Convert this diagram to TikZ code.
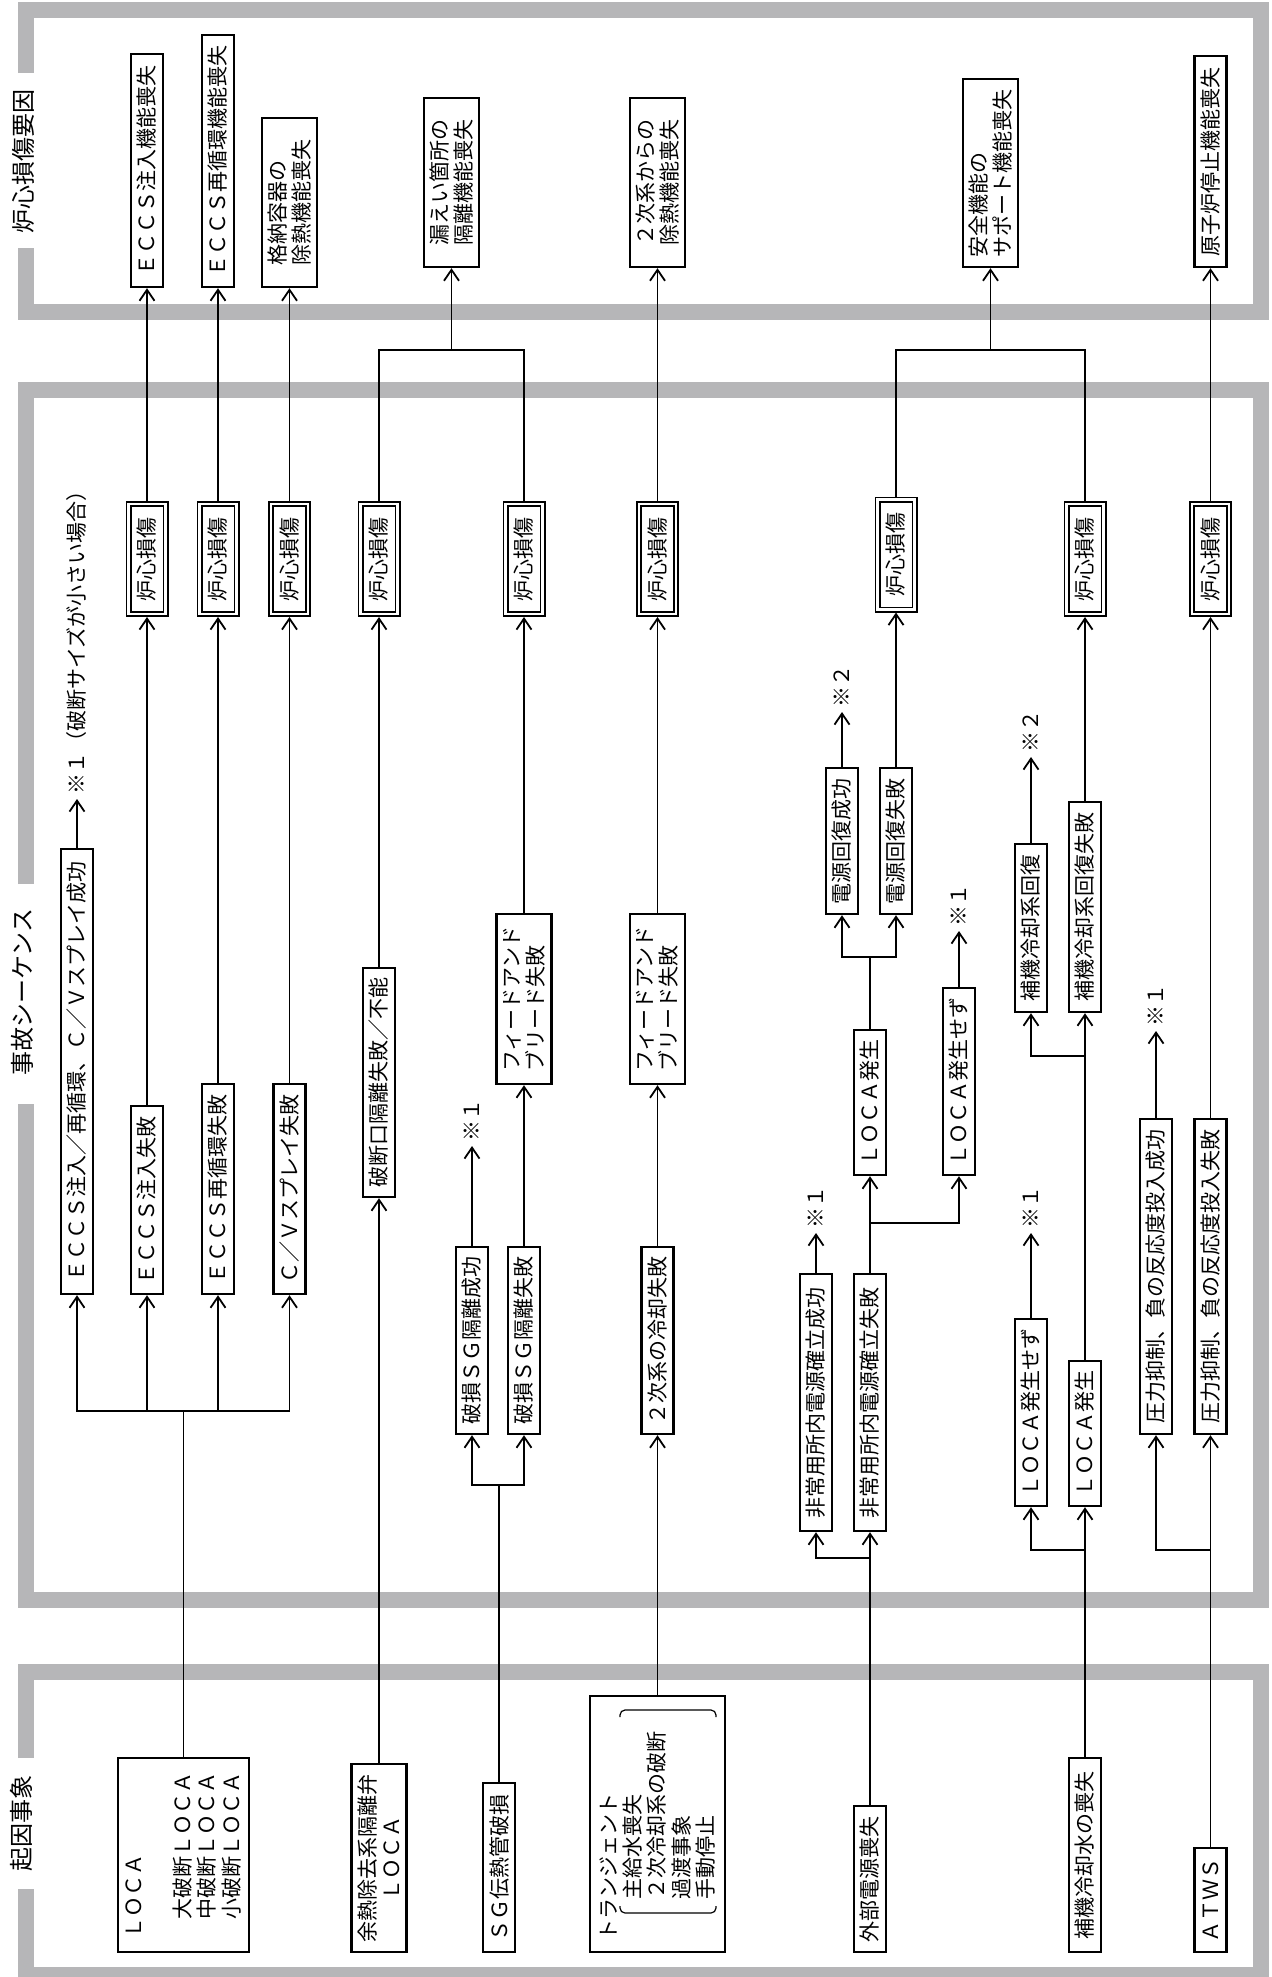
\documentclass[tikz,border=0pt]{standalone}
\usepackage{fontspec}
\setmainfont{Noto Sans CJK JP}
\usetikzlibrary{arrows.meta}

\definecolor{framegray}{RGB}{182,182,184}

\tikzset{
  frame/.style={draw=framegray, line width=8pt},
  box/.style={draw, line width=1.2pt, rotate=90, inner sep=0pt, minimum height=16pt,
    font=\fontsize{10.5pt}{12.2pt}\selectfont, align=center},
  wide/.style={minimum height=27.5pt, align=left},
  len/.style={minimum width=#1*0.5pt},
  cdbox/.style={draw, line width=0.9pt, double, double distance=1.2pt, rotate=90,
    inner sep=0pt, outer sep=1.5pt, minimum width=55pt, minimum height=18.5pt,
    font=\fontsize{10.5pt}{12.2pt}\selectfont},
  note/.style={rotate=90, anchor=west, inner xsep=2pt, inner ysep=0pt,
    font=\fontsize{10.5pt}{12.2pt}\selectfont},
  title/.style={rotate=90, inner sep=0pt, font=\fontsize{12pt}{14pt}\selectfont},
  line/.style={line width=0.9pt},
  arr/.style={line width=0.9pt, -{Straight Barb[length=5.5pt,width=7.5pt]}},
}

\begin{document}
\begin{tikzpicture}[x=0.5pt,y=-0.5pt]
\useasboundingbox (0,0) rectangle (1271,1977);

\draw[frame] (26,73) -- (26,10) -- (1261,10) -- (1261,312) -- (26,312) -- (26,248);
\draw[frame] (26,884) -- (26,390) -- (1261,390) -- (1261,1599.5) -- (26,1599.5) -- (26,1104);
\draw[frame] (26,1758) -- (26,1672) -- (1261,1672) -- (1261,1975) -- (26,1975) -- (26,1889);

\node[title] (tR) at (23,161) {炉心損傷要因};
\node[title] (tS) at (22,992) {事故シーケンス};
\node[title] (tI) at (21,1823) {起因事象};

\node[box, len=194, minimum height=65.5pt, align=left] (iA) at (183.5,1855)
  {ＬＯＣＡ\\[12.2pt]\hspace*{9.5pt}大破断ＬＯＣＡ\\\hspace*{9.5pt}中破断ＬＯＣＡ\\\hspace*{9.5pt}小破断ＬＯＣＡ};
\node[box, len=188, wide, align=center] (iB) at (379,1858) {余熱除去系隔離弁\\ＬＯＣＡ};
\node[box, len=169] (iC) at (499,1867.5) {ＳＧ伝熱管破損};
\node[box, minimum height=67.5pt, text width=116pt, inner xsep=6pt, align=left] (iD) at (657.5,1824)
  {トランジェント\\\hspace*{20.5pt}主給水喪失\\\hspace*{20.5pt}２次冷却系の破断\\\hspace*{20.5pt}過渡事象\\\hspace*{20.5pt}手動停止};
\draw[line width=0.6pt, rounded corners=2.5pt] (620,1906) -- (620,1913) -- (716,1913) -- (716,1906);
\draw[line width=0.6pt, rounded corners=2.5pt] (620,1717) -- (620,1710) -- (716,1710) -- (716,1717);
\node[box, len=146] (iE) at (870,1879) {外部電源喪失};
\node[box, len=194] (iF) at (1085,1855) {補機冷却水の喪失};
\node[box, len=104] (iG) at (1210.5,1900) {ＡＴＷＳ};

\node[box, len=445] (sA0) at (77,1071.5) {ＥＣＣＳ注入／再循環、Ｃ／Ｖスプレイ成功};
\node[box, len=188] (sA1) at (147,1200) {ＥＣＣＳ注入失敗};
\node[box, len=210] (sA2) at (218,1189) {ＥＣＣＳ再循環失敗};
\node[box, len=210] (sA3) at (289.5,1189) {Ｃ／Ｖスプレイ失敗};
\node[box, len=229] (sB) at (379,1082.5) {破断口隔離失敗／不能};
\node[box, len=187] (sC1) at (472,1340.5) {破損ＳＧ隔離成功};
\node[box, len=187] (sC2) at (524,1340.5) {破損ＳＧ隔離失敗};
\node[box, len=170, wide] (sC3) at (524,999) {フィードアンド\\ブリード失敗};
\node[box, len=187] (sD1) at (657.5,1340.5) {２次系の冷却失敗};
\node[box, len=170, wide] (sD2) at (657.5,999) {フィードアンド\\ブリード失敗};
\node[box, len=257] (sE1) at (816,1402.5) {非常用所内電源確立成功};
\node[box, len=257] (sE2) at (870,1402.5) {非常用所内電源確立失敗};
\node[box, len=145] (sE3) at (870,1102.5) {ＬＯＣＡ発生};
\node[box, len=187] (sE4) at (959,1081.5) {ＬＯＣＡ発生せず};
\node[box, len=146] (sE5) at (842,841) {電源回復成功};
\node[box, len=146] (sE6) at (896,841) {電源回復失敗};
\node[box, len=187] (sF1) at (1031,1412.5) {ＬＯＣＡ発生せず};
\node[box, len=145] (sF2) at (1085,1433.5) {ＬＯＣＡ発生};
\node[box, len=168] (sF3) at (1031,928) {補機冷却系回復};
\node[box, len=210] (sF4) at (1085,907) {補機冷却系回復失敗};
\node[box, len=315] (sG1) at (1156,1276.5) {圧力抑制、負の反応度投入成功};
\node[box, len=315] (sG2) at (1210.5,1276.5) {圧力抑制、負の反応度投入失敗};

\node[cdbox] (cdA1) at (147,559) {炉心損傷};
\node[cdbox] (cdA2) at (218,559) {炉心損傷};
\node[cdbox] (cdA3) at (289.5,559) {炉心損傷};
\node[cdbox] (cdB) at (379,559) {炉心損傷};
\node[cdbox] (cdC) at (524,559) {炉心損傷};
\node[cdbox] (cdD) at (657.5,559) {炉心損傷};
\node[cdbox] (cdE) at (896,554.5) {炉心損傷};
\node[cdbox] (cdF) at (1085,559) {炉心損傷};
\node[cdbox] (cdG) at (1210.5,559) {炉心損傷};

\node[box, len=233] (fA1) at (147,170.5) {ＥＣＣＳ注入機能喪失};
\node[box, len=252] (fA2) at (218,161) {ＥＣＣＳ再循環機能喪失};
\node[box, len=169, wide] (fA3) at (289.5,202.5) {格納容器の\\除熱機能喪失};
\node[box, len=169, wide] (fB) at (451.5,182.5) {漏えい箇所の\\隔離機能喪失};
\node[box, len=169, wide] (fD) at (657.5,182.5) {２次系からの\\除熱機能喪失};
\node[box, len=188, wide] (fE) at (990.5,173) {安全機能の\\サポート機能喪失};
\node[box, len=211] (fG) at (1210.5,161.5) {原子炉停止機能喪失};

\node[note] (kA0) at (77,799) {※１（破断サイズが小さい場合）};
\node[note] (kC1) at (472,1146) {※１};
\node[note] (kE1) at (816,1233) {※１};
\node[note] (kE4) at (959,931) {※１};
\node[note] (kE5) at (842,712) {※２};
\node[note] (kF1) at (1031,1233) {※１};
\node[note] (kF3) at (1031,757) {※２};
\node[note] (kG1) at (1156,1031) {※１};

\coordinate (jA) at (183.5,1411);
\coordinate (jB) at (451.5,350);
\coordinate (jC) at (499,1485);
\coordinate (jE1) at (870,1558);
\coordinate (jE2) at (870,1223);
\coordinate (jE3) at (870,957);
\coordinate (jEF) at (990.5,350);
\coordinate (jF1) at (1085,1550);
\coordinate (jF2) at (1085,1056);
\coordinate (jG) at (1210.5,1550);

\draw[line] (iA.east) -- (jA);
\foreach \i in {0,1,2,3}
  \draw[arr] (jA) -| (sA\i.west);
\draw[arr] (sA0.east) -- (kA0.west);
\foreach \i in {1,2,3} {
  \draw[arr] (sA\i.east) -- (cdA\i.west);
  \draw[arr] (cdA\i.east) -- (fA\i.west);
}

\draw[arr] (iB.east) -- (sB.west);
\draw[arr] (sB.east) -- (cdB.west);
\draw[line] (cdB.east) |- (jB);
\draw[line] (cdC.east) |- (jB);
\draw[arr] (jB) -- (fB.west);

\draw[line] (iC.east) -- (jC);
\draw[arr] (jC) -| (sC1.west);
\draw[arr] (jC) -| (sC2.west);
\draw[arr] (sC1.east) -- (kC1.west);
\draw[arr] (sC2.east) -- (sC3.west);
\draw[arr] (sC3.east) -- (cdC.west);

\draw[arr] (iD.east) -- (sD1.west);
\draw[arr] (sD1.east) -- (sD2.west);
\draw[arr] (sD2.east) -- (cdD.west);
\draw[arr] (cdD.east) -- (fD.west);

\draw[line] (iE.east) -- (jE1);
\draw[arr] (jE1) -| (sE1.west);
\draw[arr] (jE1) -- (sE2.west);
\draw[arr] (sE1.east) -- (kE1.west);
\draw[line] (sE2.east) -- (jE2);
\draw[arr] (jE2) -- (sE3.west);
\draw[arr] (jE2) -| (sE4.west);
\draw[arr] (sE4.east) -- (kE4.west);
\draw[line] (sE3.east) -- (jE3);
\draw[arr] (jE3) -| (sE5.west);
\draw[arr] (jE3) -| (sE6.west);
\draw[arr] (sE5.east) -- (kE5.west);
\draw[arr] (sE6.east) -- (cdE.west);
\draw[line] (cdE.east) |- (jEF);
\draw[line] (cdF.east) |- (jEF);
\draw[arr] (jEF) -- (fE.west);

\draw[line] (iF.east) -- (jF1);
\draw[arr] (jF1) -| (sF1.west);
\draw[arr] (jF1) -- (sF2.west);
\draw[arr] (sF1.east) -- (kF1.west);
\draw[line] (sF2.east) -- (jF2);
\draw[arr] (jF2) -| (sF3.west);
\draw[arr] (jF2) -- (sF4.west);
\draw[arr] (sF3.east) -- (kF3.west);
\draw[arr] (sF4.east) -- (cdF.west);

\draw[line] (iG.east) -- (jG);
\draw[arr] (jG) -| (sG1.west);
\draw[arr] (jG) -- (sG2.west);
\draw[arr] (sG1.east) -- (kG1.west);
\draw[arr] (sG2.east) -- (cdG.west);
\draw[arr] (cdG.east) -- (fG.west);
\end{tikzpicture}
\end{document}
